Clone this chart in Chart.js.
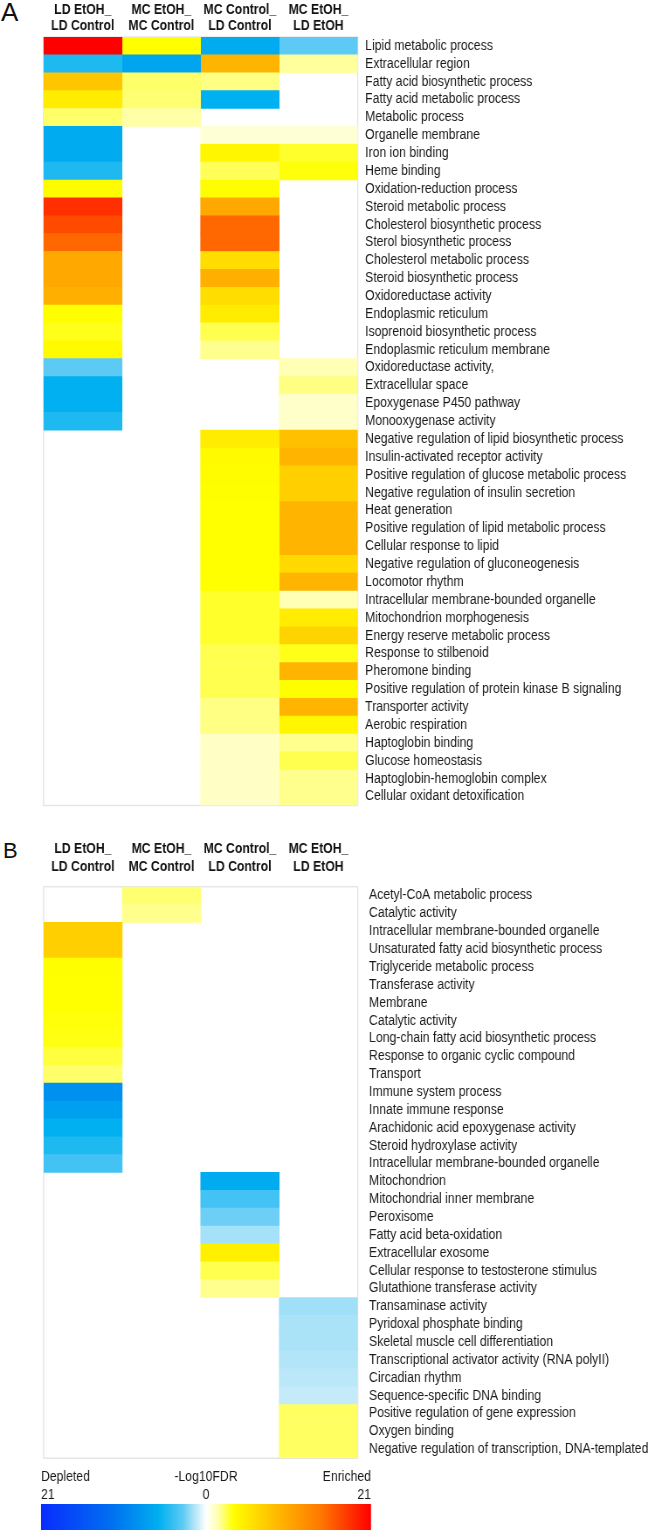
<!DOCTYPE html>
<html>
<head>
<meta charset="utf-8">
<script src="https://cdn.jsdelivr.net/npm/chart.js@4.4.1/dist/chart.umd.min.js"></script>
<style>
  html, body { margin: 0; padding: 0; background: #fff; }
  #fig { position: relative; width: 648px; height: 1530px; overflow: hidden; font-family: "Liberation Sans", Arial, sans-serif; }
  #fig canvas { position: absolute; left: 0; }
  .panel { position: absolute; line-height: 1; color: #111; }
</style>
</head>
<body>
<div id="fig">
  <div class="panel" style="left:1px;top:-1px;font-size:26px">A</div>
  <div class="panel" style="left:3px;top:840px;font-size:22px">B</div>
  <!-- canvases are drawn 742 wide and shown at 648: the figure's text is horizontally condensed -->
  <canvas id="chartA" width="742" height="820" style="top:0;width:648px;height:820px"></canvas>
  <canvas id="chartB" width="742" height="640" style="top:825px;width:648px;height:640px"></canvas>
  <canvas id="legend" width="742" height="65" style="top:1465px;width:648px;height:65px"></canvas>
</div>
<script>
/* --- data: -log10(FDR), negative = depleted, null = not significant --- */
const COLUMNS = [['LD EtOH_', 'LD Control'], ['MC EtOH_', 'MC Control'], ['MC Control_', 'LD Control'], ['MC EtOH_', 'LD EtOH']];

const TERMS_A = [
  'Lipid metabolic process', 'Extracellular region', 'Fatty acid biosynthetic process', 'Fatty acid metabolic process',
  'Metabolic process', 'Organelle membrane', 'Iron ion binding', 'Heme binding', 'Oxidation-reduction process',
  'Steroid metabolic process', 'Cholesterol biosynthetic process', 'Sterol biosynthetic process',
  'Cholesterol metabolic process', 'Steroid biosynthetic process', 'Oxidoreductase activity', 'Endoplasmic reticulum',
  'Isoprenoid biosynthetic process', 'Endoplasmic reticulum membrane', 'Oxidoreductase activity,', 'Extracellular space',
  'Epoxygenase P450 pathway', 'Monooxygenase activity', 'Negative regulation of lipid biosynthetic process',
  'Insulin-activated receptor activity', 'Positive regulation of glucose metabolic process',
  'Negative regulation of insulin secretion', 'Heat generation', 'Positive regulation of lipid metabolic process',
  'Cellular response to lipid', 'Negative regulation of gluconeogenesis', 'Locomotor rhythm',
  'Intracellular membrane-bounded organelle', 'Mitochondrion morphogenesis', 'Energy reserve metabolic process',
  'Response to stilbenoid', 'Pheromone binding', 'Positive regulation of protein kinase B signaling',
  'Transporter activity', 'Aerobic respiration', 'Haptoglobin binding', 'Glucose homeostasis',
  'Haptoglobin-hemoglobin complex', 'Cellular oxidant detoxification'
];
const A_LDETOH_LDCTRL = [21, -5, 8, 5, 2.3, -6.5, -6.5, -5, 3.8, 18.5, 17, 15.5, 10.5, 10.5, 10, 3.5, 3.2, 3.9, -3, -6, -6, -5,
  null, null, null, null, null, null, null, null, null, null, null, null, null, null, null, null, null, null, null, null, null];
const A_MCETOH_MCCTRL = [3.5, -7, 2.3, 2.2, 1.6, null, null, null, null, null, null, null, null, null, null, null, null, null, null, null, null, null,
  null, null, null, null, null, null, null, null, null, null, null, null, null, null, null, null, null, null, null, null, null];
const A_MCCTRL_LDCTRL = [-6.5, 9.5, 2, -6, null, 0.8, 4.2, 2.5, 3.6, 10.5, 15.5, 15.5, 6.2, 10, 6.2, 5, 2.6, 1.9, null, null, null, null,
  5, 3.9, 3.7, 3.6, 3.5, 3.5, 3.5, 3.5, 3.5, 3, 3, 3, 2.6, 2.6, 2.6, 2, 2, 1.1, 1.1, 1.1, 1.1];
const A_MCETOH_LDETOH = [-3, 1.7, null, null, null, 0.8, 3, 3.4, null, null, null, null, null, null, null, null, null, null, 1.4, 2, 1, 1,
  8.5, 9.5, 7.3, 7.3, 9.5, 9.5, 9.5, 6.5, 9.5, 1.4, 5, 7, 3.2, 9.5, 3.6, 9.5, 4.2, 1.9, 2.6, 1.9, 1.9];

const TERMS_B = [
  'Acetyl-CoA metabolic process', 'Catalytic activity', 'Intracellular membrane-bounded organelle',
  'Unsaturated fatty acid biosynthetic process', 'Triglyceride metabolic process', 'Transferase activity', 'Membrane',
  'Catalytic activity', 'Long-chain fatty acid biosynthetic process', 'Response to organic cyclic compound', 'Transport',
  'Immune system process', 'Innate immune response', 'Arachidonic acid epoxygenase activity', 'Steroid hydroxylase activity',
  'Intracellular membrane-bounded organelle', 'Mitochondrion', 'Mitochondrial inner membrane', 'Peroxisome',
  'Fatty acid beta-oxidation', 'Extracellular exosome', 'Cellular response to testosterone stimulus',
  'Glutathione transferase activity', 'Transaminase activity', 'Pyridoxal phosphate binding',
  'Skeletal muscle cell differentiation', 'Transcriptional activator activity (RNA polyII)', 'Circadian rhythm',
  'Sequence-specific DNA binding', 'Positive regulation of gene expression', 'Oxygen binding',
  'Negative regulation of transcription, DNA-templated'
];
const B_LDETOH_LDCTRL = [null, null, 7.3, 7.3, 3.6, 3.5, 3.5, 3.4, 3.3, 2.8, 2.3, -9, -7.5, -6, -5, -3.8,
  null, null, null, null, null, null, null, null, null, null, null, null, null, null, null, null];
const B_MCETOH_MCCTRL = [2.2, 1.9, null, null, null, null, null, null, null, null, null, null, null, null, null, null,
  null, null, null, null, null, null, null, null, null, null, null, null, null, null, null, null];
const B_MCCTRL_LDCTRL = [null, null, null, null, null, null, null, null, null, null, null, null, null, null, null, null,
  -6.5, -3.8, -2.7, -1.7, 4.7, 2.6, 1.9, null, null, null, null, null, null, null, null, null];
const B_MCETOH_LDETOH = [null, null, null, null, null, null, null, null, null, null, null, null, null, null, null, null,
  null, null, null, null, null, null, null, -1.8, -1.6, -1.6, -1.45, -1.3, -1.1, 2.4, 2.4, 2.4];

const LEGEND_TICKS = [-21, 0, 21];
const LEGEND_LABELS = [['Depleted', '21'], ['-Log10FDR', '0'], ['Enriched', '21']];

/* --- colour scale --- */
const SCALE_STOPS = [
  [-21, '#0a2cff'], [-12, '#0070f0'], [-6, '#00b0f0'], [-3, '#5ccaf5'], [-1.5, '#b0e4f8'], [0, '#ffffff'],
  [1.5, '#ffffb0'], [3.5, '#ffff00'], [8.5, '#ffc000'], [14.5, '#ff7a00'], [21, '#ff0000']
];
function hexRgb(h) { return [1, 3, 5].map(i => parseInt(h.substr(i, 2), 16)); }
function cellColor(v) {
  for (let i = 1; i < SCALE_STOPS.length; i++) {
    const [v0, c0] = SCALE_STOPS[i - 1], [v1, c1] = SCALE_STOPS[i];
    if (v <= v1 || i === SCALE_STOPS.length - 1) {
      const t = Math.max(0, Math.min(1, (v - v0) / (v1 - v0)));
      const a = hexRgb(c0), b = hexRgb(c1);
      return `rgb(${a.map((x, k) => Math.round(x + (b[k] - x) * t)).join(',')})`;
    }
  }
}

/* --- layout --- */
const W = 742; // drawing width, shown at 648 px
Chart.defaults.font.family = '"Liberation Sans", Arial, sans-serif';
Chart.defaults.color = '#1a1a1a';

const outline = {
  id: 'outline',
  beforeDatasetsDraw(chart) {
    const { ctx, chartArea: a } = chart;
    ctx.save();
    ctx.strokeStyle = '#e6e6e6';
    ctx.lineWidth = 1.5;
    ctx.strokeRect(a.left, a.top, a.right - a.left, a.bottom - a.top);
    ctx.restore();
  }
};

function heatDatasets(cols) {
  return cols.map((vals, j) => ({
    data: vals.map(v => v === null ? null : [j, j + 1]),
    backgroundColor: vals.map(v => v === null ? 'rgba(0,0,0,0)' : cellColor(v)),
    grouped: false,
    categoryPercentage: 1,
    barPercentage: 1,
    borderWidth: 0,
    borderSkipped: false
  }));
}

function heatChart(id, terms, cols, cfg) {
  return new Chart(document.getElementById(id), {
    type: 'bar',
    data: { labels: terms, datasets: heatDatasets(cols) },
    options: {
      indexAxis: 'y',
      responsive: false,
      animation: false,
      events: [],
      layout: { padding: { left: cfg.left, right: 0, top: 0, bottom: cfg.bottom } },
      plugins: { legend: { display: false }, tooltip: { enabled: false } },
      scales: {
        x: { type: 'linear', min: 0, max: COLUMNS.length, display: false },
        x2: {
          type: 'category', labels: COLUMNS, position: 'top', offset: true,
          grid: { display: false, drawTicks: false }, border: { display: false },
          ticks: { autoSkip: false, maxRotation: 0, padding: cfg.headPad, color: '#111',
                   font: { size: 14, weight: 'bold', lineHeight: cfg.headLh / 14 } },
          afterFit: s => { s.height = cfg.top; s.paddingLeft = 0; s.paddingRight = 0; }
        },
        y: {
          type: 'category', position: 'right', offset: true,
          grid: { display: false, drawTicks: false }, border: { display: false },
          ticks: { autoSkip: false, padding: cfg.labPad, color: '#1a1a1a', font: { size: 14 } },
          afterFit: s => { s.width = W - cfg.right; s.paddingTop = 0; s.paddingBottom = 0; }
        }
      }
    },
    plugins: [outline]
  });
}

heatChart('chartA', TERMS_A, [A_LDETOH_LDCTRL, A_MCETOH_MCCTRL, A_MCCTRL_LDCTRL, A_MCETOH_LDETOH],
  { left: 49.8, right: 409.6, top: 37, bottom: 14.5, headPad: 3, headLh: 15.7, labPad: 8.5 });

heatChart('chartB', TERMS_B, [B_LDETOH_LDCTRL, B_MCETOH_MCCTRL, B_MCCTRL_LDCTRL, B_MCETOH_LDETOH],
  { left: 50, right: 409.6, top: 61.7, bottom: 6.8, headPad: 10, headLh: 18.5, labPad: 13 });

/* --- colour bar --- */
new Chart(document.getElementById('legend'), {
  type: 'bar',
  data: {
    labels: ['-Log10FDR'],
    datasets: [{
      data: [[LEGEND_TICKS[0], LEGEND_TICKS[2]]],
      backgroundColor: c => {
        const chart = c.chart;
        if (!chart.chartArea) return '#ccc';
        const xs = chart.scales.x;
        const g = chart.ctx.createLinearGradient(xs.getPixelForValue(-21), 0, xs.getPixelForValue(21), 0);
        SCALE_STOPS.forEach(([v, col]) => g.addColorStop((v + 21) / 42, col));
        return g;
      },
      categoryPercentage: 1,
      barPercentage: 1,
      borderWidth: 0,
      borderSkipped: false
    }]
  },
  options: {
    indexAxis: 'y',
    responsive: false,
    animation: false,
    events: [],
    layout: { padding: { left: 46.9, right: W - 424.8, top: 0, bottom: 0 } },
    plugins: { legend: { display: false }, tooltip: { enabled: false } },
    scales: {
      x: {
        type: 'linear', min: -21, max: 21, position: 'top',
        grid: { display: false, drawTicks: false }, border: { display: false },
        afterBuildTicks: s => { s.ticks = LEGEND_TICKS.map(v => ({ value: v })); },
        ticks: { align: 'inner', maxRotation: 0, autoSkip: false, padding: 0, color: '#1a1a1a',
                 font: { size: 14, lineHeight: 18 / 14 },
                 callback: v => LEGEND_LABELS[LEGEND_TICKS.indexOf(v)] },
        afterFit: s => { s.height = 39; s.paddingLeft = 0; s.paddingRight = 0; }
      },
      y: { display: false }
    }
  }
});
</script>
</body>
</html>
